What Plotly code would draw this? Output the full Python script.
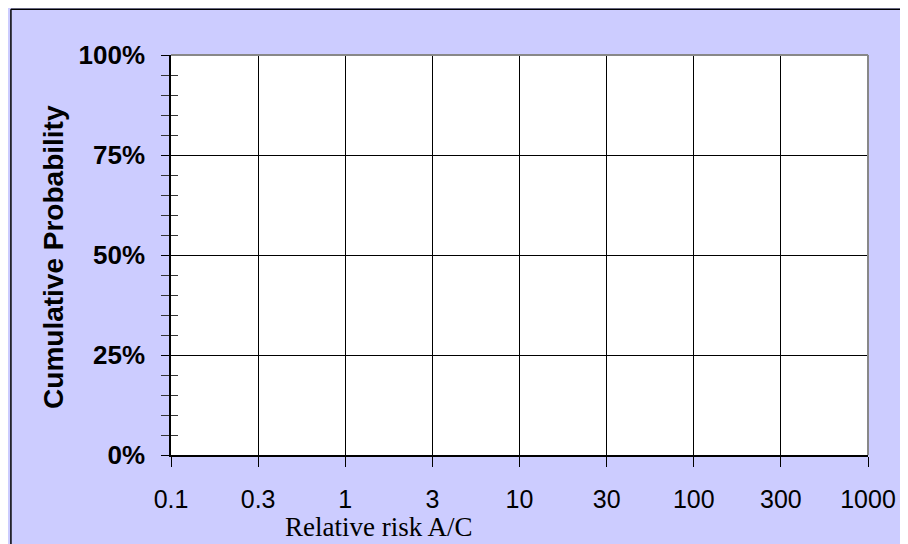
import plotly.graph_objects as go

# ---- data (chart is an empty template: axes only) ----
x_positions = [0, 1, 2, 3, 4, 5, 6, 7, 8]
x_labels = ["0.1", "0.3", "1", "3", "10", "30", "100", "300", "1000"]
y_ticks = [0, 25, 50, 75, 100]
y_labels = ["0%", "25%", "50%", "75%", "100%"]
series_x = []
series_y = []

# page body has an 8px margin, so the figure starts at (8, 8)
OFF = 8
W, H = 908 - OFF, 544 - OFF
L, R, T, B = 171 - OFF, 872 - OFF, 54.5 - OFF, 455 - OFF
pw, ph = R - L, B - T

def px(xp):  # page x -> paper
    return (xp - OFF - L) / pw

def py(yp):  # page y -> paper
    return (B - (yp - OFF)) / ph

fig = go.Figure()
fig.add_trace(go.Scatter(x=series_x, y=series_y, mode="lines", showlegend=False,
                         xaxis="x", yaxis="y"))
fig.add_trace(go.Scatter(x=series_x, y=series_y, mode="lines", showlegend=False,
                         xaxis="x", yaxis="y2"))

tickfont_x = dict(family="Liberation Sans, Arial, sans-serif", size=25, color="black")
tickfont_y = dict(family="Liberation Sans, Arial, sans-serif", size=26, color="black")

fig.update_layout(
    width=W, height=H,
    margin=dict(l=L, r=W - R, t=T, b=H - B, pad=0),
    paper_bgcolor="#CCCCFF",
    plot_bgcolor="white",
    showlegend=False,
    xaxis=dict(
        range=[0, 8], tickmode="array", tickvals=x_positions, ticktext=x_labels,
        showgrid=True, gridcolor="black", gridwidth=1,
        showline=True, linecolor="black", linewidth=2,
        ticks="outside", ticklen=10, tickcolor="black", tickwidth=1,
        zeroline=False, tickfont=tickfont_x, ticklabelstandoff=11,
    ),
    yaxis=dict(
        range=[0, 100], tickmode="array", tickvals=y_ticks,
        ticktext=["<b>%s</b>" % t for t in y_labels],
        showgrid=True, gridcolor="black", gridwidth=1,
        showline=True, linecolor="black", linewidth=1.5,
        ticks="outside", ticklen=8, tickcolor="black", tickwidth=1,
        minor=dict(dtick=5, tick0=0, ticks="outside", ticklen=8,
                   tickcolor="#333333", tickwidth=1, showgrid=False),
        zeroline=False, tickfont=tickfont_y, ticklabelstandoff=11,
    ),
    yaxis2=dict(
        range=[0, 100], overlaying="y", anchor="x", side="left",
        tickmode="array", tickvals=y_ticks, showticklabels=False,
        showgrid=False, showline=False, zeroline=False,
        ticks="inside", ticklen=7, tickcolor="black", tickwidth=1,
        minor=dict(dtick=5, tick0=0, ticks="inside", ticklen=7,
                   tickcolor="#333333", tickwidth=1, showgrid=False),
    ),
    annotations=[
        dict(text="<b>Cumulative Probability</b>", xref="paper", yref="paper",
             x=px(53), y=py(257), xanchor="center", yanchor="middle",
             textangle=-90, showarrow=False,
             font=dict(family="Liberation Sans, Arial, sans-serif", size=28, color="black")),
        dict(text="Relative risk A/C", xref="paper", yref="paper",
             x=px(380), y=py(527), xanchor="center", yanchor="middle",
             showarrow=False,
             font=dict(family="Liberation Serif, Times New Roman, serif", size=27, color="black")),
    ],
    shapes=[
        dict(type="line", xref="paper", yref="paper", x0=0, x1=1, y0=1, y1=1,
             line=dict(color="#888888", width=2)),
        dict(type="line", xref="paper", yref="paper", x0=1, x1=1, y0=0, y1=1,
             line=dict(color="#888888", width=2)),
        dict(type="line", xref="paper", yref="paper", x0=px(10), x1=px(10),
             y0=py(8.75), y1=py(600), line=dict(color="black", width=1.5)),
        dict(type="line", xref="paper", yref="paper", x0=px(10), x1=px(960),
             y0=py(8.75), y1=py(8.75), line=dict(color="black", width=1.5)),
    ],
)

fig.write_html("out.html")
